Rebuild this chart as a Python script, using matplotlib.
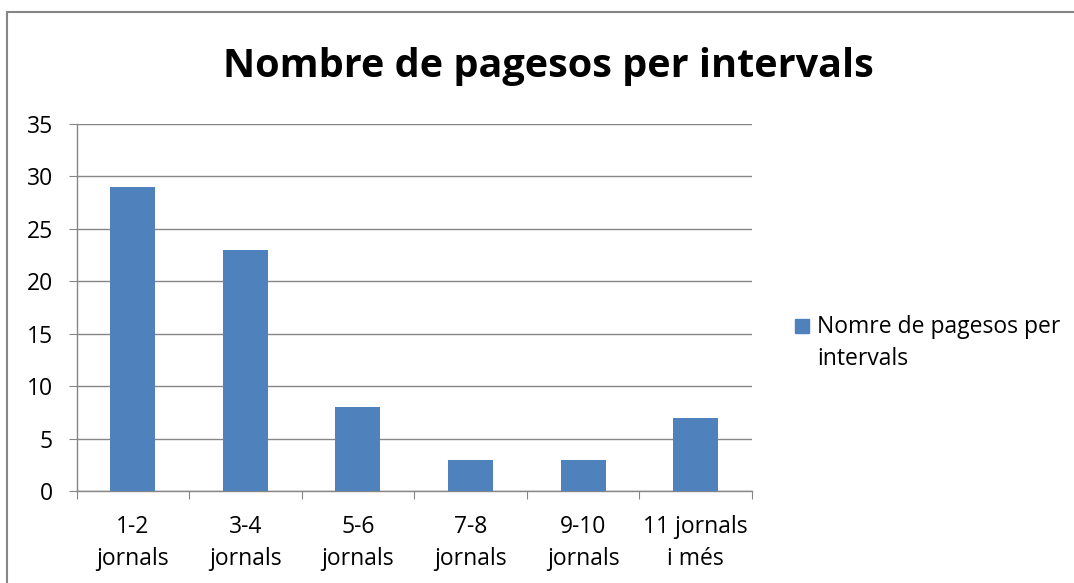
import matplotlib
matplotlib.use("Agg")
import matplotlib.pyplot as plt
from matplotlib.patches import Rectangle

# data
categories = ["1-2\njornals", "3-4\njornals", "5-6\njornals",
              "7-8\njornals", "9-10\njornals", "11 jornals\ni més"]
values = [29, 23, 8, 3, 3, 7]
series_name = "Nomre de pagesos per\nintervals"
title = "Nombre de pagesos per intervals"

plt.rcParams["font.family"] = ["Open Sans", "DejaVu Sans"]
fs = 16.5
bar_color = "#4f81bd"

W, H = 1074, 583
fig = plt.figure(figsize=(W / 100, H / 100), dpi=100)
ax = fig.add_axes([76.5 / W, 1 - 491 / H, (752 - 76.5) / W, (491 - 124) / H])

# outer chart frame (only left and top visible in the crop)
fig.patches.append(Rectangle((7 / W, -0.1), 1.2, 1 - 12 / H + 0.1,
                             transform=fig.transFigure, fill=False,
                             edgecolor="#868686", linewidth=1.5))

x = range(len(categories))
ax.bar(x, values, width=0.4, color=bar_color, zorder=3)

ax.set_xlim(-0.5, len(categories) - 0.5)
ax.set_ylim(0, 35)
ax.set_yticks(range(0, 36, 5))
ax.yaxis.grid(True, color="#868686", linewidth=1.0, zorder=0)

# ticks between categories, labels centred under bars
ax.set_xticks([i + 0.5 for i in range(-1, len(categories))])
ax.set_xticklabels([])
ax.set_xticks(list(x), minor=True)
ax.set_xticklabels(categories, minor=True, fontsize=fs, linespacing=1.45)
ax.tick_params(axis="x", which="major", length=6, color="#868686", direction="out")
ax.tick_params(axis="x", which="minor", length=0, pad=17)
ax.tick_params(axis="y", length=6, color="#868686", labelsize=fs, pad=11)

for s in ["top", "right"]:
    ax.spines[s].set_visible(False)
for s in ["left", "bottom"]:
    ax.spines[s].set_color("#868686")
    ax.spines[s].set_linewidth(1.0)

fig.text(548 / W, 1 - 66 / H, title, ha="center", va="center",
         fontsize=28.5, fontweight="bold")

# legend: square lined up with the first line of the label
fig.patches.append(Rectangle((795 / W, 1 - 333 / H), 14 / W, 14 / H,
                             transform=fig.transFigure, color=bar_color))
fig.text(817 / W, 1 - 315 / H, series_name, ha="left", va="top",
         fontsize=fs, linespacing=1.45)

fig.savefig("out.png", dpi=100)
